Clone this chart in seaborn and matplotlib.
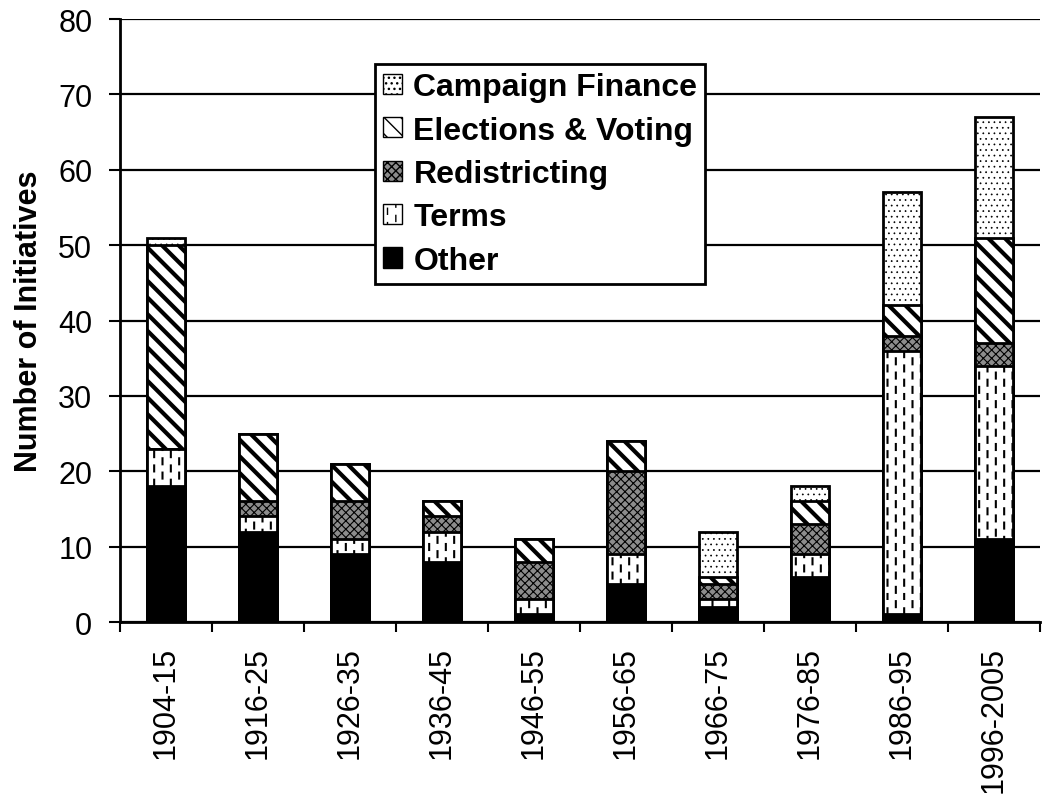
import warnings
import numpy as np
import pandas as pd
import matplotlib
matplotlib.use("Agg")
import matplotlib.pyplot as plt
import matplotlib.patches as mpatches
import matplotlib.hatch as mhatch
from matplotlib.path import Path
import seaborn as sns

warnings.filterwarnings("ignore")

periods = ["1904-15", "1916-25", "1926-35", "1936-45", "1946-55",
           "1956-65", "1966-75", "1976-85", "1986-95", "1996-2005"]
other = [18, 12, 9, 8, 1, 5, 2, 6, 1, 11]
terms = [5, 2, 2, 4, 2, 4, 1, 3, 35, 23]
redistricting = [0, 2, 5, 2, 5, 11, 2, 4, 2, 3]
elections = [27, 9, 5, 2, 3, 4, 1, 3, 4, 14]
campaign = [1, 0, 0, 0, 0, 0, 6, 2, 15, 16]

series_names = ["Other", "Terms", "Redistricting", "Elections & Voting", "Campaign Finance"]
series_vals = [other, terms, redistricting, elections, campaign]


class VerticalDashes(mhatch.HatchPatternBase):
    """Staggered short vertical dashes, triggered by ':' in a hatch string."""
    def __init__(self, hatch, density):
        n = hatch.count(":")
        self.ncols = 12 * n
        self.nrows = 7 * n
        self.num_vertices = self.ncols * self.nrows * 2

    def set_vertices_and_codes(self, vertices, codes):
        k = 0
        for c in range(self.ncols):
            x = (c + 0.5) / self.ncols
            off = 0.5 * (c % 2)
            for r in range(self.nrows):
                y0 = (r + off) / self.nrows
                y1 = (r + off + 0.42) / self.nrows
                vertices[k] = (x, y0)
                vertices[k + 1] = (x, y1)
                codes[k] = Path.MOVETO
                codes[k + 1] = Path.LINETO
                k += 2


if VerticalDashes not in mhatch._hatch_types:
    mhatch._hatch_types.append(VerticalDashes)

styles = {
    "Other": dict(color="black", hatch=None, hlw=1.0),
    "Terms": dict(color="white", hatch=":", hlw=1.5),
    "Redistricting": dict(color="#8c8c8c", hatch="xxxx", hlw=0.8),
    "Elections & Voting": dict(color="white", hatch="\\\\", hlw=3.0),
    "Campaign Finance": dict(color="white", hatch="...", hlw=0.5),
}

sns.set_theme(style="white")
plt.rcParams["font.family"] = ["Liberation Sans", "DejaVu Sans"]
plt.rcParams["hatch.color"] = "black"
for k in ["text.color", "axes.labelcolor", "xtick.color", "ytick.color", "axes.edgecolor"]:
    plt.rcParams[k] = "black"

fig = plt.figure(figsize=(10.42, 8.04), dpi=100)
ax = fig.add_axes([0.1152, 0.2251, 0.8828, 0.7500])

cum = np.cumsum(np.array(series_vals), axis=0)
for i in range(len(series_names) - 1, -1, -1):
    name = series_names[i]
    st = styles[name]
    df = pd.DataFrame({"period": periods, "value": cum[i]})
    with plt.rc_context({"hatch.linewidth": st["hlw"]}):
        n_before = len(ax.patches)
        sns.barplot(data=df, x="period", y="value", color=st["color"], saturation=1,
                    width=0.42, edgecolor="black", linewidth=2.0, hatch=st["hatch"],
                    errorbar=None, ax=ax, zorder=3)
        for p in ax.patches[n_before:]:
            if hasattr(p, "set_hatch_linewidth"):
                p.set_hatch_linewidth(st["hlw"])

ax.set_ylim(0, 80)
ax.set_xlim(-0.5, 9.5)
ax.set_yticks(np.arange(0, 81, 10))
ax.yaxis.grid(True, color="black", linewidth=1.6, zorder=0)
ax.set_axisbelow(True)
ax.tick_params(axis="y", labelsize=22, length=8, width=1.5, direction="out", left=True, pad=12)
ax.set_xticks(range(len(periods)))
ax.set_xticklabels(periods, rotation=90, fontsize=22)
ax.tick_params(axis="x", length=0, pad=17)
ax.set_xticks(np.arange(-0.5, 10, 1), minor=True)
ax.tick_params(axis="x", which="minor", length=7, width=1.5, bottom=True, direction="out")
for s in ["top", "right"]:
    ax.spines[s].set_visible(False)
for s in ["left", "bottom"]:
    ax.spines[s].set_linewidth(2.0)
ax.set_xlabel("")
ax.set_ylabel("Number of Initiatives", fontsize=22, fontweight="bold", labelpad=10)

handles = []
for name in reversed(series_names):
    st = styles[name]
    with plt.rc_context({"hatch.linewidth": min(st["hlw"], 1.5)}):
        h = mpatches.Patch(facecolor=st["color"], edgecolor="black", hatch=st["hatch"],
                           linewidth=1.0, label=name)
        if hasattr(h, "set_hatch_linewidth"):
            h.set_hatch_linewidth(min(st["hlw"], 1.5))
    handles.append(h)
leg = ax.legend(handles=handles, loc="upper left", bbox_to_anchor=(0.36, 0.919),
                bbox_transform=fig.transFigure, fancybox=False, frameon=True, framealpha=1,
                prop={"size": 23, "weight": "bold"}, handlelength=0.6, handleheight=0.6,
                handletextpad=0.35, labelspacing=0.42, borderpad=0.25, borderaxespad=0)
leg.get_frame().set_edgecolor("black")
leg.get_frame().set_linewidth(2.0)
leg.set_zorder(5)

fig.savefig("out.png", dpi=100)
